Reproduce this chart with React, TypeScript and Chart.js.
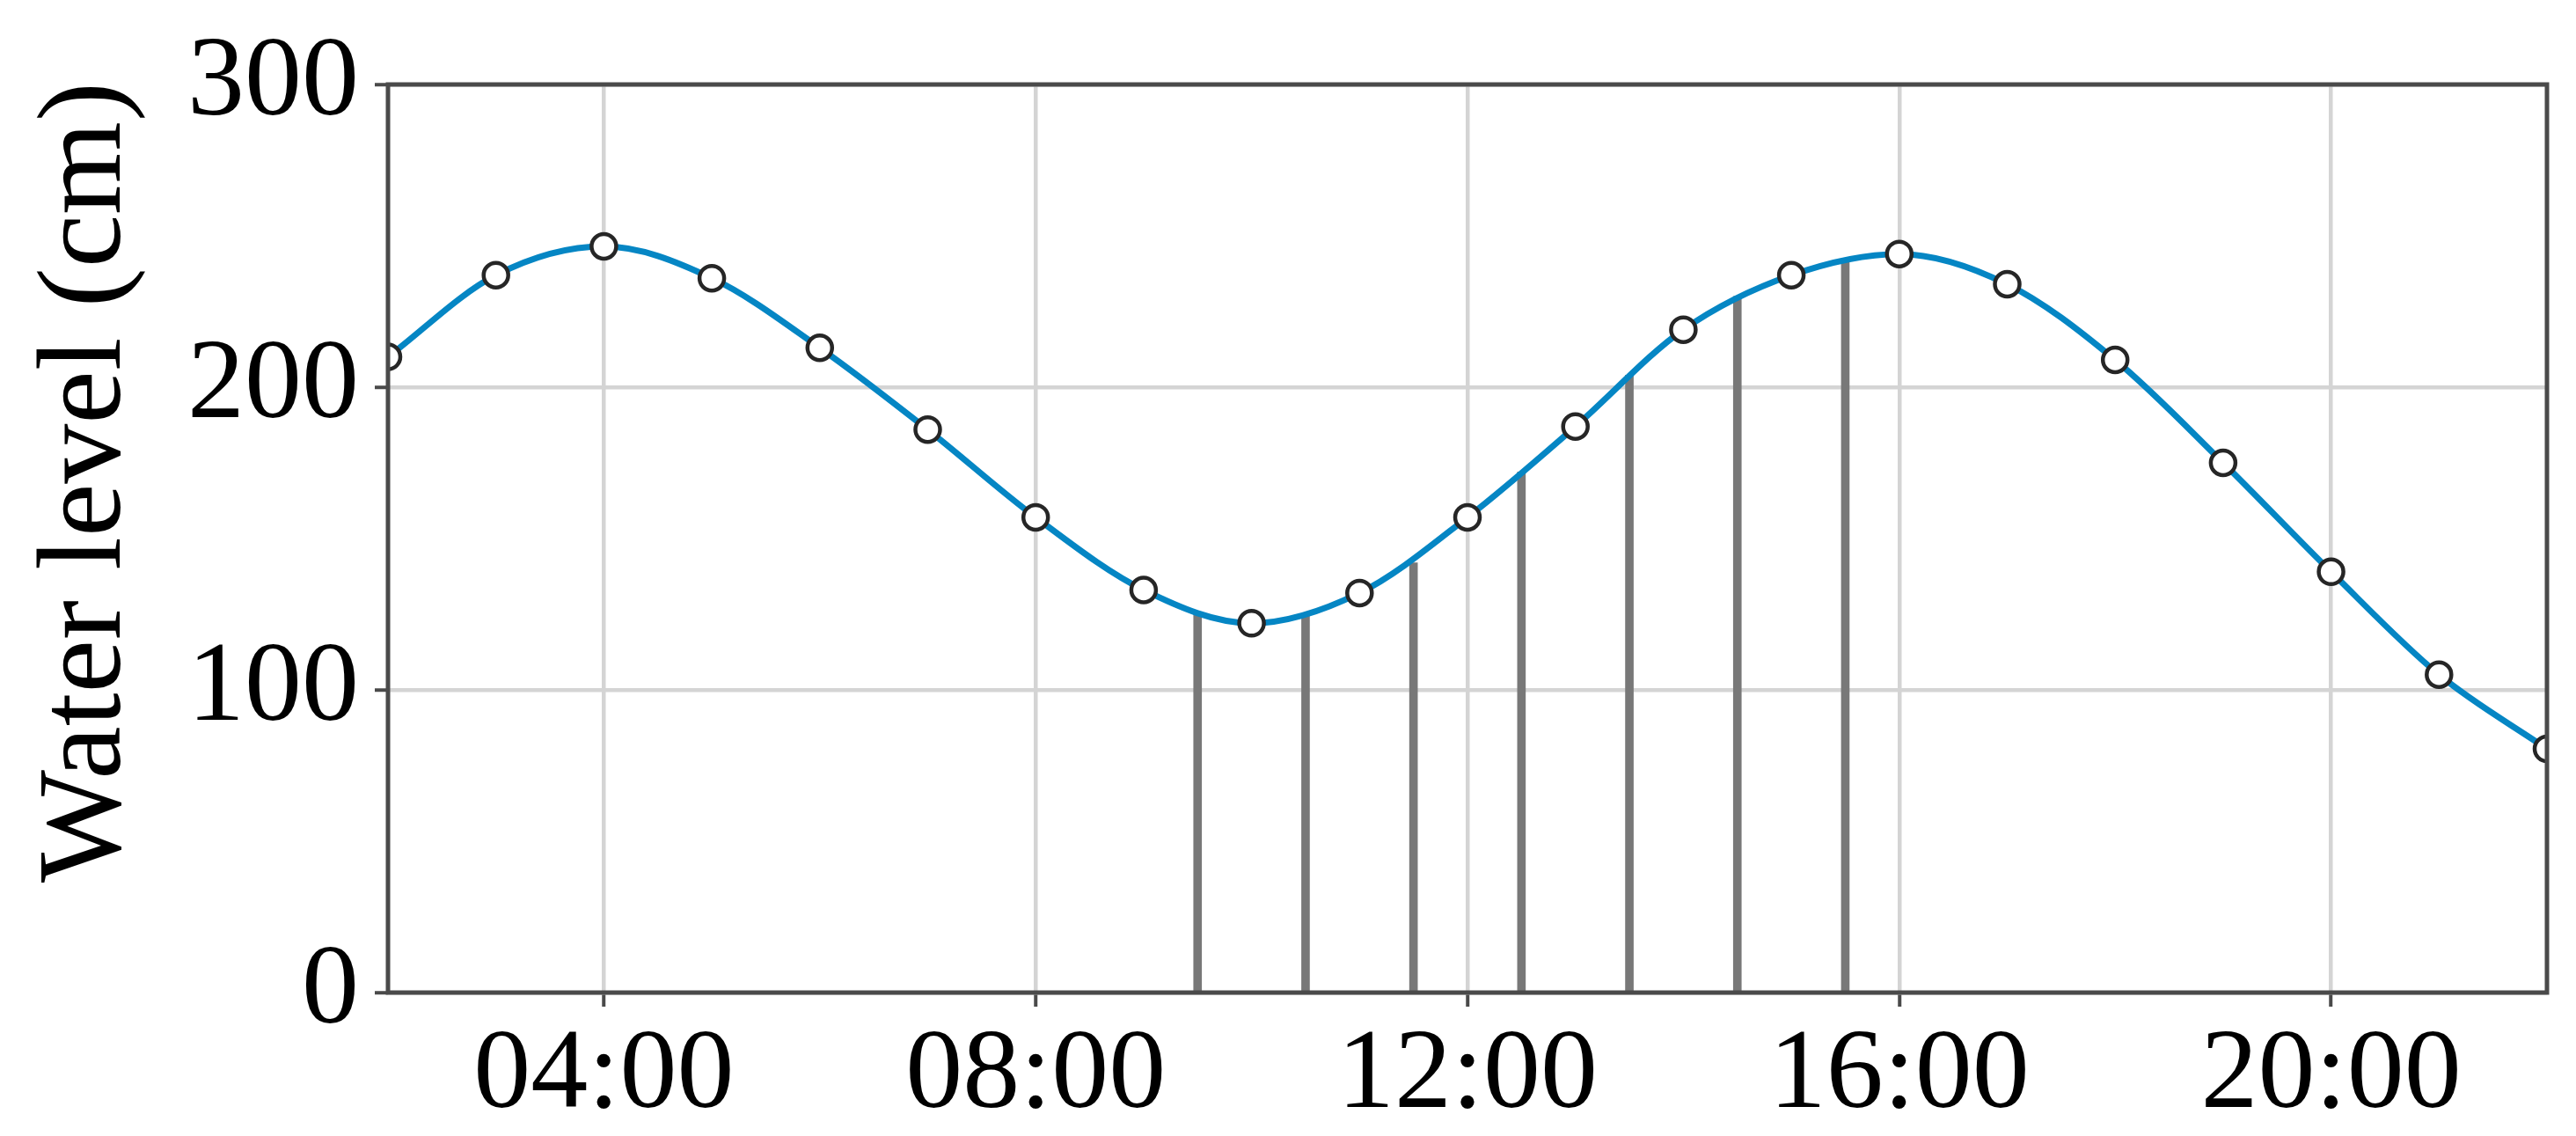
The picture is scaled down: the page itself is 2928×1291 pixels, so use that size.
import React, { useEffect, useRef } from 'react';
import { Chart, registerables } from 'chart.js';

Chart.register(...registerables);

// ---- data ----
const hours = [2, 3, 4, 5, 6, 7, 8, 9, 10, 11, 12, 13, 14, 15, 16, 17, 18, 19, 20, 21, 22];
const waterLevels = [210, 237, 246.5, 236, 213, 186, 157, 133, 122, 132, 157, 187, 219, 237, 244, 234, 209, 175, 139, 105, 80.5];
const barHours = [9.5, 10.5, 11.5, 12.5, 13.5, 14.5, 15.5];
const barLevels = [125, 125, 142, 172, 204, 230, 242];
const xTickHours = [4, 8, 12, 16, 20];
const yTickValues = [0, 100, 200, 300];
const yTitle = 'Water level (cm)';

const fmtHour = (h: number) => `${String(h).padStart(2, '0')}:00`;
const FONT = '"Liberation Serif", "Times New Roman", Times, serif';

const framePlugin = {
  id: 'frameAndTitle',
  afterDraw(chart: any) {
    const { ctx, chartArea } = chart;
    ctx.save();
    ctx.strokeStyle = '#4a4a4a';
    ctx.lineWidth = 5;
    ctx.strokeRect(chartArea.left, chartArea.top, chartArea.right - chartArea.left, chartArea.bottom - chartArea.top);
    ctx.restore();

    ctx.save();
    ctx.translate(136, 548);
    ctx.rotate(-Math.PI / 2);
    ctx.font = `136px ${FONT}`;
    ctx.fillStyle = '#000';
    ctx.textAlign = 'center';
    ctx.textBaseline = 'alphabetic';
    ctx.fillText(yTitle, 0, 0);
    ctx.restore();
  },
};

export default function App() {
  const canvasRef = useRef<HTMLCanvasElement | null>(null);

  useEffect(() => {
    if (!canvasRef.current) return;
    const chart = new Chart(canvasRef.current, {
      type: 'line',
      data: {
        datasets: [
          {
            type: 'line',
            label: 'Water level',
            data: hours.map((h, i) => ({ x: h, y: waterLevels[i] })),
            borderColor: '#0586c4',
            borderWidth: 7,
            cubicInterpolationMode: 'monotone',
            pointRadius: 14,
            pointBorderWidth: 4.5,
            pointBackgroundColor: '#ffffff',
            pointBorderColor: '#262626',
            fill: false,
            clip: 0,
            order: 1,
          } as any,
          {
            type: 'bar',
            label: 'Bars',
            data: barHours.map((h, i) => ({ x: h, y: barLevels[i] })),
            backgroundColor: '#787878',
            barThickness: 9,
            grouped: false,
            order: 2,
          } as any,
        ],
      },
      options: {
        animation: false,
        responsive: true,
        maintainAspectRatio: false,
        layout: { padding: { top: 78, right: 33, left: 0, bottom: 0 } },
        plugins: { legend: { display: false }, tooltip: { enabled: false } },
        scales: {
          x: {
            type: 'linear',
            min: 2,
            max: 22,
            offset: false,
            afterBuildTicks: (s: any) => {
              s.ticks = xTickHours.map((v) => ({ value: v }));
            },
            afterFit: (s: any) => {
              s.height = 163;
            },
            ticks: {
              font: { family: FONT, size: 130 },
              color: '#000',
              padding: 2,
              maxRotation: 0,
              autoSkip: false,
              callback: (v: any) => fmtHour(Number(v)),
            },
            grid: { offset: false, color: '#d4d4d4', lineWidth: 4.5, tickLength: 16, tickColor: '#4a4a4a', tickWidth: 4 },
            border: { display: false },
          },
          y: {
            type: 'linear',
            min: 0,
            max: 300,
            afterBuildTicks: (s: any) => {
              s.ticks = yTickValues.map((v) => ({ value: v }));
            },
            afterFit: (s: any) => {
              s.width = 441;
            },
            ticks: {
              font: { family: FONT, size: 130 },
              color: '#000',
              padding: 18,
              callback: (v: any) => String(v),
            },
            grid: { offset: false, color: '#d4d4d4', lineWidth: 4.5, tickLength: 15, tickColor: '#4a4a4a', tickWidth: 4 },
            border: { display: false },
          },
        },
      },
      plugins: [framePlugin],
    });
    return () => chart.destroy();
  }, []);

  return (
    <div style={{ position: 'fixed', left: 0, top: 0, width: 2928, height: 1291, background: '#fff' }}>
      <canvas ref={canvasRef} />
    </div>
  );
}
